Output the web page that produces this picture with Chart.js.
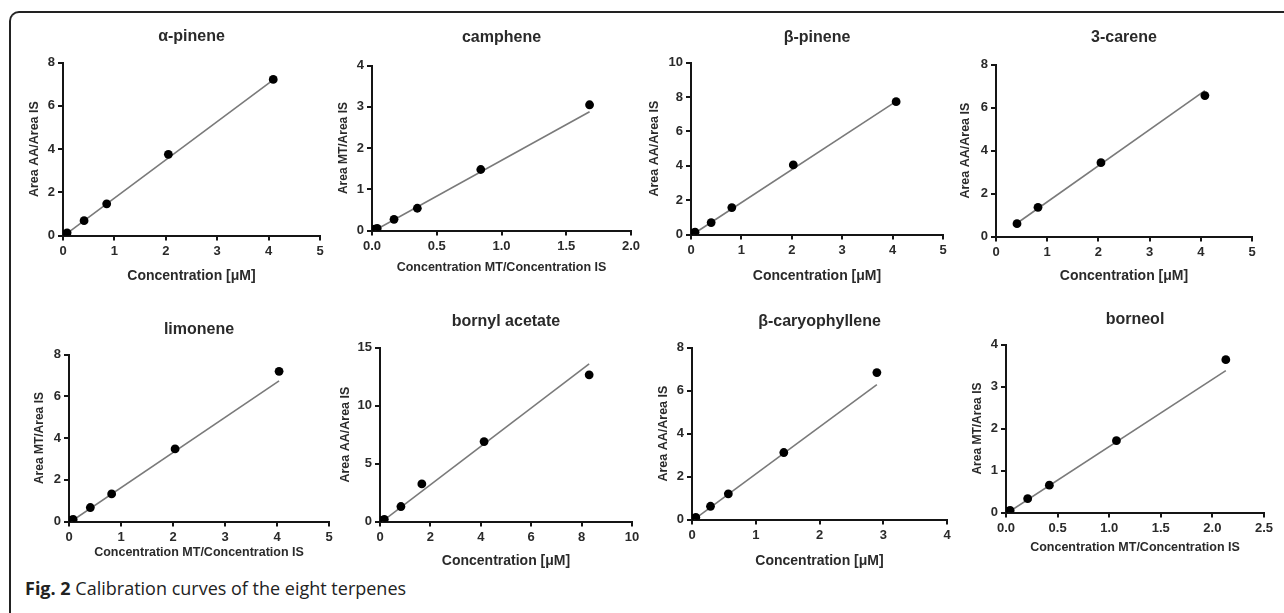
<!DOCTYPE html>
<html>
<head>
<meta charset="utf-8">
<script src="https://cdn.jsdelivr.net/npm/chart.js@4.4.1/dist/chart.umd.min.js"></script>
<style>
  html, body { margin: 0; padding: 0; background: #fff; width: 1284px; height: 613px; overflow: hidden; }
  #frame { position: absolute; left: 9px; top: 11px; width: 1400px; height: 700px;
           border-left: 2px solid #222; border-top: 2px solid #222; border-top-left-radius: 10px; }
  canvas { position: absolute; }
  #caption { position: absolute; left: 25px; top: 577px; font-family: "Open Sans", sans-serif;
             font-size: 18px; color: #222; white-space: nowrap; line-height: 22px; }
  #caption b { font-weight: 700; }
</style>
</head>
<body>
<div id="frame"></div>
<div id="caption"><b>Fig. 2</b> Calibration curves of the eight terpenes</div>
<script>
// ---- data ----
const panelTitles = ['α-pinene', 'camphene', 'β-pinene', '3-carene', 'limonene', 'bornyl acetate', 'β-caryophyllene', 'borneol'];
const xTitleUM = 'Concentration [μM]';
const xTitleMT = 'Concentration MT/Concentration IS';
const yTitleAA = 'Area AA/Area IS';
const yTitleMT = 'Area MT/Area IS';

const aPineneX = [0.04, 0.08, 0.41, 0.85, 2.05, 4.09];
const aPineneY = [0.07, 0.13, 0.69, 1.47, 3.76, 7.22];
const aPineneFitX = [0.04, 4.09];
const aPineneFitY = [0.03, 7.2];

const campheneX = [0.02, 0.04, 0.17, 0.35, 0.84, 1.68];
const campheneY = [0.03, 0.05, 0.27, 0.54, 1.48, 3.05];
const campheneFitX = [0.02, 1.68];
const campheneFitY = [0.0, 2.88];

const bPineneX = [0.04, 0.08, 0.40, 0.81, 2.03, 4.07];
const bPineneY = [0.08, 0.14, 0.70, 1.57, 4.05, 7.73];
const bPineneFitX = [0.04, 4.07];
const bPineneFitY = [0.02, 7.75];

const careneX = [0.41, 0.82, 2.05, 4.08];
const careneY = [0.60, 1.36, 3.44, 6.56];
const careneFitX = [0.41, 4.08];
const careneFitY = [0.62, 6.79];

const limoneneX = [0.04, 0.08, 0.41, 0.82, 2.04, 4.04];
const limoneneY = [0.06, 0.10, 0.67, 1.32, 3.48, 7.20];
const limoneneFitX = [0.04, 4.04];
const limoneneFitY = [0.0, 6.74];

const bornylX = [0.08, 0.17, 0.83, 1.66, 4.13, 8.30];
const bornylY = [0.10, 0.20, 1.30, 3.25, 6.90, 12.65];
const bornylFitX = [0.08, 8.30];
const bornylFitY = [0.0, 13.6];

const caryoX = [0.03, 0.06, 0.29, 0.57, 1.44, 2.90];
const caryoY = [0.05, 0.10, 0.62, 1.20, 3.12, 6.84];
const caryoFitX = [0.03, 2.90];
const caryoFitY = [0.0, 6.28];

const borneolX = [0.02, 0.04, 0.21, 0.42, 1.07, 2.13];
const borneolY = [0.03, 0.05, 0.33, 0.65, 1.71, 3.64];
const borneolFitX = [0.02, 2.13];
const borneolFitY = [0.0, 3.38];

// axis ranges: [xMax, xStep, xDecimals, yMax, yStep]
const axisRanges = [
  [5, 1, 0, 8, 2],
  [2, 0.5, 1, 4, 1],
  [5, 1, 0, 10, 2],
  [5, 1, 0, 8, 2],
  [5, 1, 0, 8, 2],
  [10, 2, 0, 15, 5],
  [4, 1, 0, 8, 2],
  [2.5, 0.5, 1, 4, 1]
];

// ---- layout (positions only) ----
const layoutBoxes = [
  {L: 63,   R: 320,  T: 63,  B: 236, tY: 37,  xtY: 277, ytD: 28},
  {L: 372,  R: 631,  T: 66,  B: 231, tY: 38,  xtY: 268, ytD: 28},
  {L: 691,  R: 943,  T: 63,  B: 235, tY: 38,  xtY: 277, ytD: 36},
  {L: 996,  R: 1252, T: 65,  B: 237, tY: 38,  xtY: 277, ytD: 30},
  {L: 69,   R: 329,  T: 355, B: 522, tY: 330, xtY: 553, ytD: 29},
  {L: 380,  R: 632,  T: 348, B: 522, tY: 322, xtY: 562, ytD: 34},
  {L: 692,  R: 947,  T: 348, B: 520, tY: 322, xtY: 562, ytD: 28},
  {L: 1006, R: 1264, T: 345, B: 513, tY: 320, xtY: 548, ytD: 28}
];

const series = [
  [aPineneX, aPineneY, aPineneFitX, aPineneFitY, xTitleUM, yTitleAA],
  [campheneX, campheneY, campheneFitX, campheneFitY, xTitleMT, yTitleMT],
  [bPineneX, bPineneY, bPineneFitX, bPineneFitY, xTitleUM, yTitleAA],
  [careneX, careneY, careneFitX, careneFitY, xTitleUM, yTitleAA],
  [limoneneX, limoneneY, limoneneFitX, limoneneFitY, xTitleMT, yTitleMT],
  [bornylX, bornylY, bornylFitX, bornylFitY, xTitleUM, yTitleAA],
  [caryoX, caryoY, caryoFitX, caryoFitY, xTitleUM, yTitleAA],
  [borneolX, borneolY, borneolFitX, borneolFitY, xTitleMT, yTitleMT]
];

const FONT = '"Liberation Sans", Arial, sans-serif';
const TXT = '#2a2a2a';
const AX = '#151515';
const YW = 64;      // y-axis box width
const PADR = 14;    // right padding

function pts(xs, ys) { return xs.map((x, i) => ({x: x, y: ys[i]})); }

panelTitles.forEach((title, i) => {
  const box = layoutBoxes[i];
  const [xs, ys, fxs, fys, xTitle, yTitle] = series[i];
  const [xMax, xStep, xDec, yMax, yStep] = axisRanges[i];
  const isMT = xTitle === xTitleMT;
  const titleSize = 16, titleLH = titleSize * 1.2;
  const xtSize = isMT ? 12.5 : 14, xtLH = xtSize * 1.2;
  const ytSize = isMT ? 12 : 12.5, ytLH = ytSize * 1.2;

  const canvasTop = box.tY - titleLH / 2;
  const gap = box.T - canvasTop - titleLH;
  const XH = box.xtY - box.B + xtLH / 2;
  const width = YW + (box.R - box.L) + PADR;
  const height = Math.round(box.B - canvasTop + XH);

  const cv = document.createElement('canvas');
  cv.width = width; cv.height = height;
  cv.style.left = (box.L - YW) + 'px';
  cv.style.top = canvasTop + 'px';
  cv.style.width = width + 'px';
  cv.style.height = height + 'px';
  document.body.appendChild(cv);

  new Chart(cv, {
    type: 'scatter',
    data: {
      datasets: [
        {
          data: pts(fxs, fys), showLine: true, borderColor: '#7a7a7a', borderWidth: 1.6,
          pointRadius: 0, order: 2
        },
        {
          data: pts(xs, ys), backgroundColor: '#000', borderColor: '#000',
          pointRadius: 4.4, pointBorderWidth: 0, order: 1
        }
      ]
    },
    options: {
      responsive: false, animation: false, devicePixelRatio: 1,
      layout: { padding: { top: 0, left: 0, right: PADR, bottom: 0 } },
      plugins: {
        legend: { display: false }, tooltip: { enabled: false },
        title: {
          display: true, text: title, fullSize: false, color: TXT,
          font: { family: FONT, size: titleSize, weight: 'bold' },
          padding: { top: 0, bottom: gap }
        }
      },
      scales: {
        x: {
          type: 'linear', min: 0, max: xMax,
          afterFit: s => { s.height = XH; },
          border: { display: true, color: AX, width: 2 },
          grid: { drawOnChartArea: false, drawTicks: true, tickLength: 5, color: AX, lineWidth: 2 },
          ticks: {
            stepSize: xStep, padding: 3, color: TXT, maxRotation: 0,
            font: { family: FONT, size: 13, weight: 'bold' },
            callback: v => Number(v).toFixed(xDec)
          },
          title: {
            display: true, text: xTitle, color: TXT,
            font: { family: FONT, size: xtSize, weight: 'bold' },
            padding: { top: 0, bottom: 0 }
          }
        },
        y: {
          type: 'linear', min: 0, max: yMax,
          afterFit: s => { s.width = YW; },
          border: { display: true, color: AX, width: 2 },
          grid: { drawOnChartArea: false, drawTicks: true, tickLength: 5, color: AX, lineWidth: 2 },
          ticks: {
            stepSize: yStep, padding: 3, color: TXT,
            font: { family: FONT, size: 13, weight: 'bold' }
          },
          title: {
            display: true, text: yTitle, color: TXT,
            font: { family: FONT, size: ytSize, weight: 'bold' },
            padding: { top: YW - box.ytD - ytLH / 2, bottom: 0 }
          }
        }
      }
    }
  });
});
</script>
</body>
</html>
